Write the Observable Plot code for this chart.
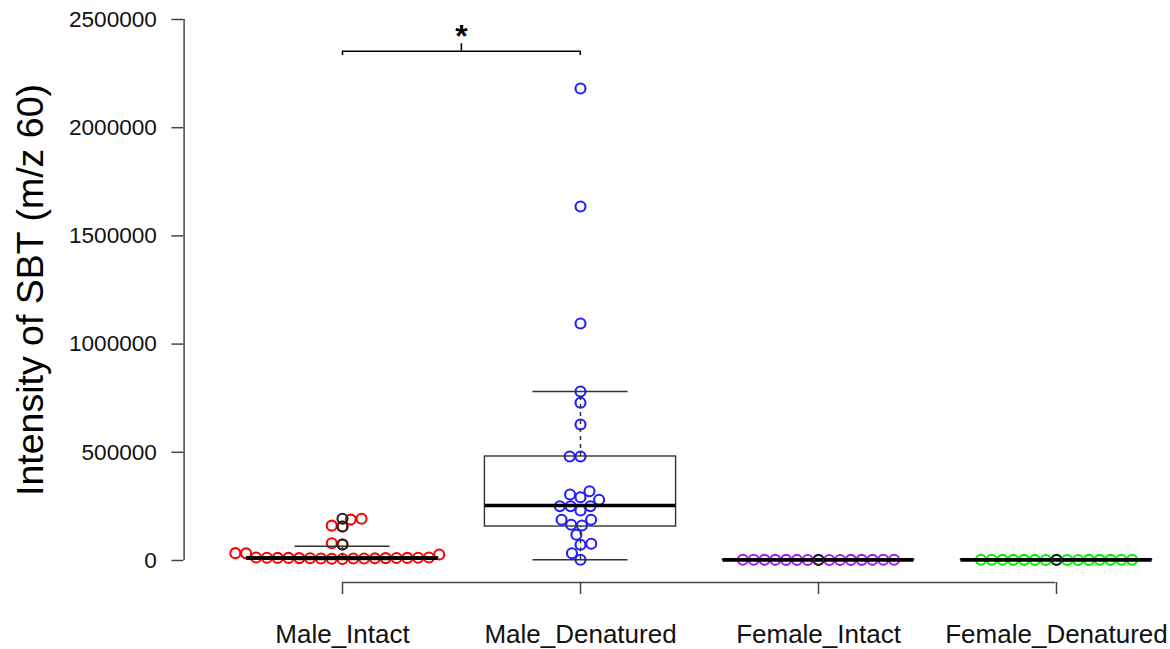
<!DOCTYPE html>
<html><head><meta charset="utf-8">
<script src="https://cdn.jsdelivr.net/npm/d3@7"></script>
<script src="https://cdn.jsdelivr.net/npm/@observablehq/plot@0.6"></script>
<style>
body{margin:0;background:#fff;}
#chart svg{display:block;}
</style></head><body><div id="chart"></div>
<script>
// ---- data ----
const groups = ["Male_Intact", "Male_Denatured", "Female_Intact", "Female_Denatured"];
const groupColors = ["#ff0000", "#1f1fff", "#a020f0", "#00ee00"];

const maleIntact = [9000, 11000, 12000, 10000, 13000, 8000, 12500, 11500, 9500, 14000, 10500, 12000, 7000, 13500, 11000, 9000, 12000,
  34000, 33000, 28000, 74000, 80000, 157000, 161000, 193000, 189000];
const maleDenatured = [3200, 33700, 72600, 77200, 118800, 161700, 165000, 188000, 188000, 231000, 251000, 251000, 251000,
  280500, 292500, 305000, 320200, 480600, 480600, 628500, 728700, 781000, 1095000, 1636000, 2181000];
const femaleIntact = [2500, 3000, 2800, 3200, 2600, 3100, 2900, 2700, 3300, 2400, 3000, 2800, 3100, 2600, 3000];
const femaleDenatured = [2600, 3000, 2900, 3100, 2500, 3200, 2800, 2700, 3000, 2400, 3100, 2900, 3300, 2600, 3000];
const seriesValues = [maleIntact, maleDenatured, femaleIntact, femaleDenatured];

// box-plot statistics
const boxLo  = [5000, 3200, 2400, 2400];
const boxQ1  = [8000, 157000, 2700, 2700];
const boxMed = [11000, 254000, 3000, 3000];
const boxQ3  = [15000, 480600, 3100, 3100];
const boxHi  = [66000, 781000, 3300, 3300];
const outliers = [[74000, 157000, 193000], [], [3000], [3000]];

const yTicks = [0, 500000, 1000000, 1500000, 2000000, 2500000];
const yLabel = "Intensity of SBT (m/z 60)";
const sigPairs = [["Male_Intact", "Male_Denatured", "*"]];

// ---- layout ----
const W = 1170, H = 649;
const STEP = 238.67, PAD_IN = 0.1;
const BW = STEP * (1 - PAD_IN);
const ML = 341 - BW / 2;
const MR = W - (ML + STEP * (groups.length - PAD_IN));
const XH = (BW / STEP) / 2;               // half facet width in step units
const Y_AXIS_DX = 182 - ML;               // y axis sits left of first facet
const Y_AXIS_X = -XH + Y_AXIS_DX / STEP;
const Y_MIN = -101700, Y_MAX = 2500000;
const BOX_HALF = 0.402, CAP_HALF = 0.2;
const SIG_LINE = 2353500, SIG_END = 2333600, SIG_TOP = 2387700, SIG_TEXT = 2420000;

// ---- tables ----
const points = groups.flatMap((g, i) => seriesValues[i].map(v => ({group: g, value: v})))
  .sort((a, b) => a.value - b.value);
const boxes = groups.map((g, i) => ({group: g, lo: boxLo[i], q1: boxQ1[i], med: boxMed[i], q3: boxQ3[i], hi: boxHi[i]}));
const outs = groups.flatMap((g, i) => outliers[i].map(v => ({group: g, value: v})));
const idx = g => groups.indexOf(g);
const sig = sigPairs.map(([a, b, t]) => ({g: a, x0: 0, x1: idx(b) - idx(a), xm: (idx(b) - idx(a)) / 2, t}));
const first = [{g: groups[0]}];

const ink = "#111";
const chart = Plot.plot({
  width: W, height: H,
  marginLeft: ML, marginRight: MR, marginTop: 19, marginBottom: 67,
  style: {fontFamily: "'Liberation Sans', Arial, Helvetica, sans-serif", color: ink, background: "#fff"},
  fx: {domain: groups, paddingInner: PAD_IN, paddingOuter: 0},
  x: {domain: [-XH, XH], axis: null},
  y: {domain: [Y_MIN, Y_MAX]},
  color: {domain: groups, range: groupColors},
  marks: [
    // y axis
    Plot.ruleX(first, {fx: "g", x: () => Y_AXIS_X, y1: () => 0, y2: () => Y_MAX, stroke: "#444", strokeWidth: 1.5}),
    Plot.axisY({ticks: yTicks, tickFormat: d => String(d), tickSize: 12, tickPadding: 15, fontSize: 22.6,
      dx: Y_AXIS_DX, label: null, stroke: "#444", strokeWidth: 1.5}),
    Plot.text(first, {fx: "g", text: () => yLabel, frameAnchor: "left", rotate: -90, dx: 29 - ML, dy: -11,
      fontSize: 37.5, textAnchor: "middle", lineAnchor: "middle", fill: "#000"}),
    // x axis
    Plot.ruleY(first, {fx: "g", y: () => Y_MIN, x1: () => 0, x2: () => groups.length - 1, stroke: "#444", strokeWidth: 1.5}),
    Plot.axisFx({anchor: "bottom", tickSize: 12, tickPadding: 30, fontSize: 26, label: null, stroke: "#444", strokeWidth: 1.5}),
    // points (beeswarm)
    Plot.dot(points, Plot.dodgeX({anchor: "middle", padding: 0.8},
      {fx: "group", y: "value", r: 5, stroke: "group", strokeWidth: 2.1, fill: "none"})),
    // box plots
    Plot.ruleX(boxes, {fx: "group", x: () => 0, y1: "q3", y2: "hi", stroke: "#333", strokeWidth: 1.5, strokeDasharray: "4,4"}),
    Plot.ruleX(boxes, {fx: "group", x: () => 0, y1: "lo", y2: "q1", stroke: "#333", strokeWidth: 1.5, strokeDasharray: "4,4"}),
    Plot.ruleY(boxes, {fx: "group", y: "hi", x1: () => -CAP_HALF, x2: () => CAP_HALF, stroke: "#333", strokeWidth: 1.5}),
    Plot.ruleY(boxes, {fx: "group", y: "lo", x1: () => -CAP_HALF, x2: () => CAP_HALF, stroke: "#333", strokeWidth: 1.5}),
    Plot.rect(boxes, {fx: "group", x1: () => -BOX_HALF, x2: () => BOX_HALF, y1: "q1", y2: "q3", fill: "none", stroke: "#333", strokeWidth: 1.4}),
    Plot.ruleY(boxes, {fx: "group", y: "med", x1: () => -BOX_HALF, x2: () => BOX_HALF, stroke: "#000", strokeWidth: 3.6}),
    Plot.dot(outs, {fx: "group", x: () => 0, y: "value", r: 5, stroke: "#222", strokeWidth: 2.1, fill: "none"}),
    // significance bracket
    Plot.ruleY(sig, {fx: "g", y: () => SIG_LINE, x1: "x0", x2: "x1", stroke: "#000", strokeWidth: 1.6}),
    Plot.ruleX(sig, {fx: "g", x: "x0", y1: () => SIG_END, y2: () => SIG_LINE, stroke: "#000", strokeWidth: 1.6}),
    Plot.ruleX(sig, {fx: "g", x: "x1", y1: () => SIG_END, y2: () => SIG_LINE, stroke: "#000", strokeWidth: 1.6}),
    Plot.ruleX(sig, {fx: "g", x: "xm", y1: () => SIG_LINE, y2: () => SIG_TOP, stroke: "#000", strokeWidth: 1.6}),
    Plot.text(sig, {fx: "g", x: "xm", y: () => SIG_TEXT, text: "t", fontSize: 32, fontWeight: "bold", fill: "#000", lineAnchor: "middle"})
  ]
});
document.getElementById("chart").appendChild(chart);
</script></body></html>
